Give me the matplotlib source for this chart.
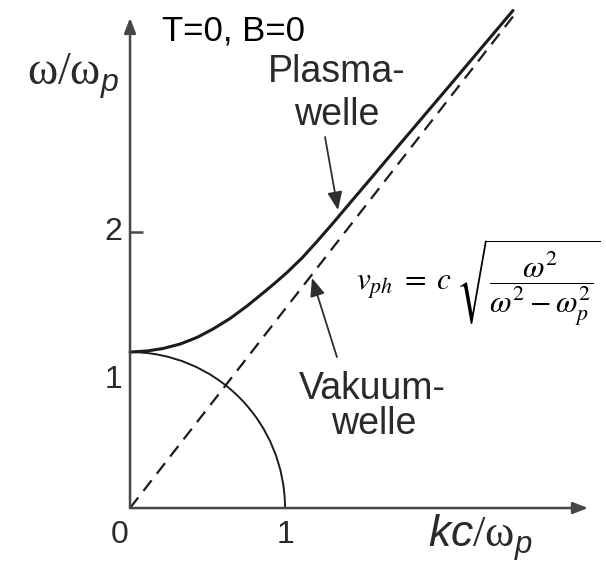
import matplotlib
matplotlib.use("Agg")
import matplotlib.pyplot as plt
from matplotlib.patches import Arc
from matplotlib import transforms

plt.rcParams["font.family"] = ["Liberation Sans", "DejaVu Sans"]
plt.rcParams["mathtext.fontset"] = "custom"
plt.rcParams["mathtext.rm"] = "Liberation Serif"
plt.rcParams["mathtext.it"] = "Liberation Sans:italic"
plt.rcParams["mathtext.sf"] = "Liberation Sans:italic"

# Plasma wave branch: kc/ωp and ω/ωp
plasma_k = [0.0, 0.110, 0.213, 0.323, 0.432, 0.535, 0.645, 0.755, 0.858,
            0.935, 1.013, 1.110, 1.206, 1.310, 1.419, 1.581, 1.742, 2.065,
            2.471]
plasma_w = [1.130, 1.138, 1.156, 1.188, 1.236, 1.297, 1.373, 1.464, 1.558,
            1.630, 1.707, 1.812, 1.931, 2.065, 2.210, 2.424, 2.638, 3.065,
            3.605]

# Vacuum light line
vacuum_k = [0.0, 2.484]
vacuum_w = [0.0, 3.580]

# Lower branch: quarter arc from the cutoff down to kc/ωp = 1
lower_k_end = 1.0
lower_w_start = 1.13

xtick_values = [0, 1]
xtick_labels = ["0", "1"]
ytick_values = [1, 2]
ytick_labels = ["1", "2"]
ytick_marks = [2]

axis_color = "#474747"
line_color = "#1c1c1c"
text_color = "#2a2a2a"

fig = plt.figure(figsize=(6.06, 5.70), dpi=100)
ax = fig.add_axes([0, 0, 1, 1])
ax.set_xlim(-0.839, 3.071)
ax.set_ylim(-0.449, 3.681)
ax.axis("off")

# Coordinate axes with arrow heads
arrow_kw = dict(arrowstyle="-|>,head_length=0.9,head_width=0.35",
                color=axis_color, lw=1.8, shrinkA=0, shrinkB=0)
ax.annotate("", xy=(2.955, 0), xytext=(0, 0), arrowprops=arrow_kw)
ax.annotate("", xy=(0, 3.551), xytext=(0, 0), arrowprops=arrow_kw)

for v in ytick_marks:
    ax.plot([0, 0.084], [v, v], color=axis_color, lw=1.8, solid_capstyle="butt")

# Tick labels
for v, lab in zip(xtick_values, xtick_labels):
    ax.text(v - (0.07 if v == 0 else 0), -0.196, lab, fontsize=23,
            ha="center", va="center", color=text_color)
for v, lab in zip(ytick_values, ytick_labels):
    tr = transforms.offset_copy(ax.transData, fig=fig, x=0,
                                y=-7 if v == 1 else 0, units="points")
    ax.text(-0.05, v, lab, fontsize=23, ha="right", va="center",
            color=text_color, transform=tr)

# Curves
ax.plot(vacuum_k, vacuum_w, color=line_color, lw=1.6, dashes=(6.0, 3.8))
ax.add_patch(Arc((0, 0), 2 * lower_k_end, 2 * lower_w_start, theta1=0,
                 theta2=90, color=line_color, lw=1.4))
ax.plot(plasma_k, plasma_w, color=line_color, lw=2.2,
        solid_capstyle="round", solid_joinstyle="round")

# Annotations
ax.text(0.206, 3.391, "T=0, B=0", fontsize=25, ha="left", va="baseline",
        color="black")
ax.text(1.335, 3.087, "Plasma-", fontsize=27, ha="center", va="baseline",
        color=text_color)
ax.text(1.335, 2.775, "welle", fontsize=27, ha="center", va="baseline",
        color=text_color)
ax.text(1.561, 0.790, "Vakuum-", fontsize=27, ha="center", va="baseline",
        color=text_color)
ax.text(1.574, 0.536, "welle", fontsize=27, ha="center", va="baseline",
        color=text_color)

pointer_kw = dict(arrowstyle="-|>,head_length=1.1,head_width=0.45",
                  color="#2e2e2e", lw=1.3, shrinkA=0, shrinkB=0)
ax.annotate("", xy=(1.342, 2.159), xytext=(1.258, 2.688), arrowprops=pointer_kw)
ax.annotate("", xy=(1.174, 1.667), xytext=(1.335, 1.094), arrowprops=pointer_kw)

# Axis labels
ax.text(-0.665, 3.07, r"$\mathrm{\omega}/\mathrm{\omega}_{\mathsf{p}}$",
        fontsize=33, ha="left", va="baseline", color=text_color)
ax.text(1.923, -0.283, r"$\mathit{kc}/\mathrm{\omega}_{\mathsf{p}}$",
        fontsize=32, ha="left", va="baseline", color=text_color)

# Phase velocity
ax.text(1.455, 1.630,
        r"$v_{ph}\;=\;c\;\sqrt{\dfrac{\omega^2}{\omega^2-\omega_p^2}}$",
        math_fontfamily="stix", fontsize=22.5, ha="left", va="center",
        color="black")

fig.savefig("out.png", dpi=100)
